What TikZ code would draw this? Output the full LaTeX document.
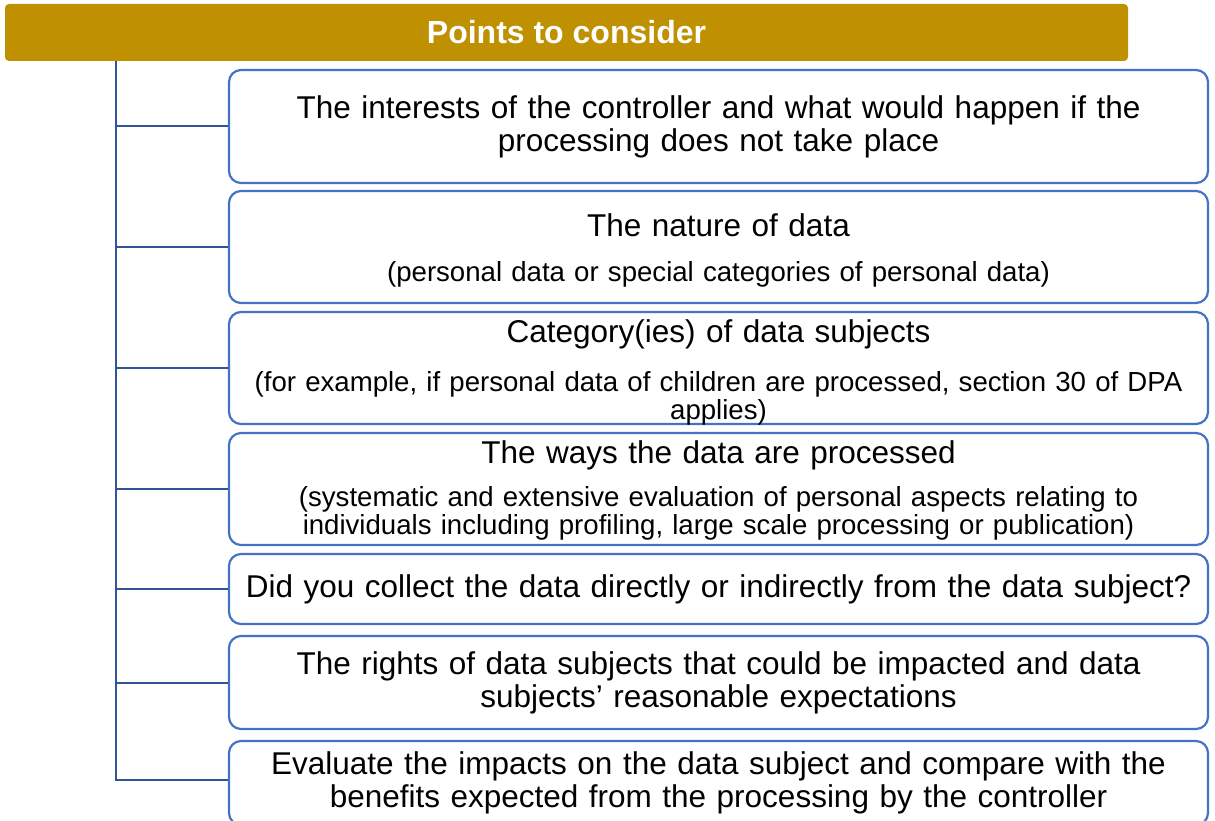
\documentclass[tikz,border=0pt]{standalone}
\usepackage{fontspec}
\setmainfont{Liberation Sans}
\usetikzlibrary{calc}
\definecolor{hdrgold}{HTML}{BF9000}
\definecolor{boxblue}{HTML}{4472C4}
\definecolor{treeblue}{HTML}{2F5597}
\newcommand{\mf}{\fontsize{31.5}{33}\selectfont}
\newcommand{\sfnt}{\fontsize{27.6}{28}\selectfont}
\begin{document}
\begin{tikzpicture}[x=1pt,y=-1pt,
  hdrbox/.style={fill=hdrgold, rounded corners=4pt, minimum width=1123pt, minimum height=57pt,
    inner sep=0pt, text=white, font=\fontsize{32}{34}\selectfont\bfseries},
  itembox/.style={draw=boxblue, line width=2.2pt, rounded corners=12pt, fill=white,
    minimum width=979pt, inner xsep=8pt, inner ysep=0pt, text width=963pt, align=center, font=\mf},
  titletext/.style={inner sep=0pt, text width=963pt, align=center, font=\mf},
  subtext/.style={inner sep=0pt, text width=963pt, align=center, font=\sfnt},
  tree/.style={draw=treeblue, line width=2pt},
  trunk/.style={draw=treeblue, line width=2.8pt}
]
\useasboundingbox (0,0) rectangle (1215,821);
\clip (0,0) rectangle (1215,821);

\node[hdrbox] (hdr) at (566.5,32.5) {Points to consider};

\node[itembox, minimum height=113pt] (b1) at (718.5,126.5)
  {The interests of the controller and what would happen if the\\ processing does not take place};

\node[itembox, minimum height=112pt] (b2) at (718.5,247) {};
\node[titletext] (b2t) at ($(b2.center)+(0,-22)$) {The nature of data};
\node[subtext] (b2s) at ($(b2.center)+(0,27)$) {(personal data or special categories of personal data)};

\node[itembox, minimum height=112pt] (b3) at (718.5,368) {};
\node[titletext] (b3t) at ($(b3.center)+(0,-34)$) {Category(ies) of data subjects};
\node[subtext] (b3s) at ($(b3.center)+(0,30)$) {(for example, if personal data of children are processed, section 30 of DPA\\ applies)};

\node[itembox, minimum height=112pt] (b4) at (718.5,489) {};
\node[titletext] (b4t) at ($(b4.center)+(0,-34)$) {The ways the data are processed};
\node[subtext] (b4s) at ($(b4.center)+(0,24)$) {(systematic and extensive evaluation of personal aspects relating to\\ individuals including profiling, large scale processing or publication)};

\node[itembox, minimum height=70pt] (b5) at (718.5,589)
  {Did you collect the data directly or indirectly from the data subject?};
\node[itembox, minimum height=93pt] (b6) at (718.5,682.5)
  {The rights of data subjects that could be impacted and data\\ subjects’ reasonable expectations};
\node[itembox, minimum height=84pt] (b7) at (718.5,783)
  {Evaluate the impacts on the data subject and compare with the\\ benefits expected from the processing by the controller};

\coordinate (t0) at (116,61);
\foreach \b in {b1,b2,b3,b4,b5,b6}
  \draw[tree] (t0 |- \b.west) -- (\b.west);
\draw[trunk] (t0) |- ([yshift=3pt]b7.west);
\end{tikzpicture}
\end{document}
